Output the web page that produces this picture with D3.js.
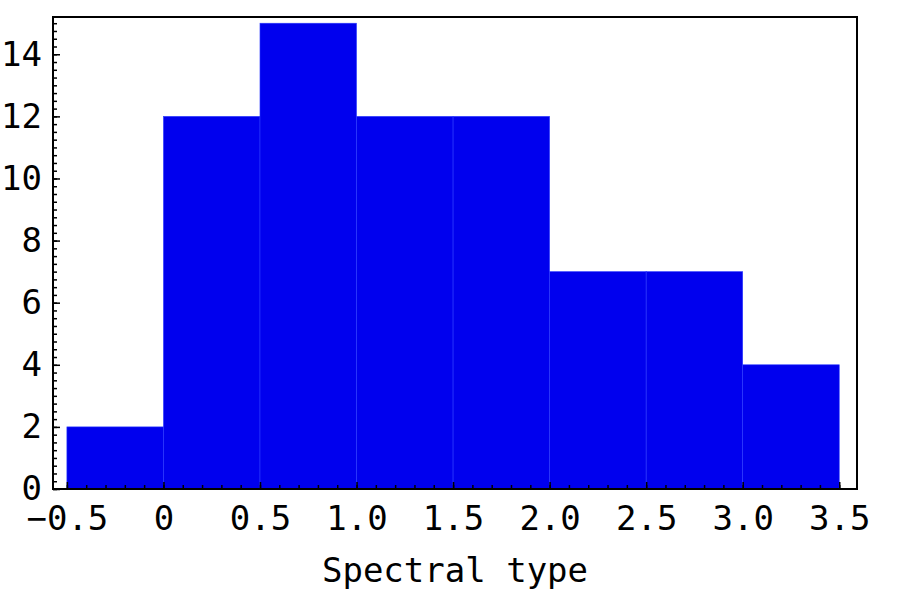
<!DOCTYPE html>
<html>
<head>
<meta charset="utf-8">
<script src="https://cdn.jsdelivr.net/npm/d3@7"></script>
<style>
  body { margin: 0; background: #fff; }
  text { font-family: "DejaVu Sans Mono", monospace; }
</style>
</head>
<body>
<svg width="903" height="594"></svg>
<script>
// histogram data
const binStarts = [-0.5, 0, 0.5, 1.0, 1.5, 2.0, 2.5, 3.0];
const binWidth = 0.5;
const counts = [2, 12, 15, 12, 12, 7, 7, 4];
const xTicks = [-0.5, 0, 0.5, 1.0, 1.5, 2.0, 2.5, 3.0, 3.5];
const xTickLabels = ['\u22120.5', '0', '0.5', '1.0', '1.5', '2.0', '2.5', '3.0', '3.5'];
const yTicks = [0, 2, 4, 6, 8, 10, 12, 14];
const xLabel = 'Spectral type';

const svg = d3.select('svg');
const plotL = 53, plotR = 857, plotT = 17, plotB = 489;
const fs = 34;

const xScale = d3.scaleLinear().domain([-0.572, 3.592]).range([plotL, plotR]);
const yScale = d3.scaleLinear().domain([0, 15.2]).range([plotB, plotT]);

// bars
svg.append('g').selectAll('rect')
    .data(binStarts)
    .enter().append('rect')
    .attr('x', d => xScale(d))
    .attr('width', d => xScale(d + binWidth) - xScale(d))
    .attr('y', (d, i) => yScale(counts[i]))
    .attr('height', (d, i) => yScale(0) - yScale(counts[i]))
    .attr('fill', '#0000ee')
    .attr('stroke', '#2b3bff')
    .attr('stroke-width', 0.6);

// minor ticks
const xMinor = d3.range(-5, 36).map(d => d / 10);
const yMinor = d3.range(0, 61).map(d => d / 4).filter(d => d <= 15.2);

const gX = svg.append('g').attr('transform', `translate(0,${plotB})`);
gX.call(d3.axisBottom(xScale).tickValues(xMinor).tickSize(-4).tickFormat(''));
gX.select('.domain').remove();
gX.selectAll('line').attr('stroke-width', 1.5);

const gXMaj = svg.append('g').attr('transform', `translate(0,${plotB})`);
gXMaj.call(d3.axisBottom(xScale).tickValues(xTicks).tickSizeInner(-7).tickSizeOuter(0).tickPadding(17)
    .tickFormat((d, i) => xTickLabels[i]));
gXMaj.select('.domain').remove();
gXMaj.selectAll('line').attr('stroke-width', 1.5);
gXMaj.selectAll('text').attr('font-size', fs).attr('fill', '#000')
    .attr('font-family', '"DejaVu Sans Mono", monospace');

const gY = svg.append('g').attr('transform', `translate(${plotL},0)`);
gY.call(d3.axisLeft(yScale).tickValues(yMinor).tickSize(-4).tickFormat(''));
gY.select('.domain').remove();
gY.selectAll('line').attr('stroke-width', 1.5);

const gYMaj = svg.append('g').attr('transform', `translate(${plotL},0)`);
gYMaj.call(d3.axisLeft(yScale).tickValues(yTicks).tickSizeInner(-7).tickSizeOuter(0).tickPadding(11));
gYMaj.select('.domain').remove();
gYMaj.selectAll('line').attr('stroke-width', 1.5);
gYMaj.selectAll('text').attr('font-size', fs).attr('fill', '#000')
    .attr('font-family', '"DejaVu Sans Mono", monospace');

// frame
svg.append('rect')
    .attr('x', plotL).attr('y', plotT)
    .attr('width', plotR - plotL).attr('height', plotB - plotT)
    .attr('fill', 'none').attr('stroke', '#000').attr('stroke-width', 2);

svg.append('text')
    .attr('x', (plotL + plotR) / 2).attr('y', 582)
    .attr('text-anchor', 'middle')
    .attr('font-size', fs)
    .text(xLabel);
</script>
</body>
</html>
